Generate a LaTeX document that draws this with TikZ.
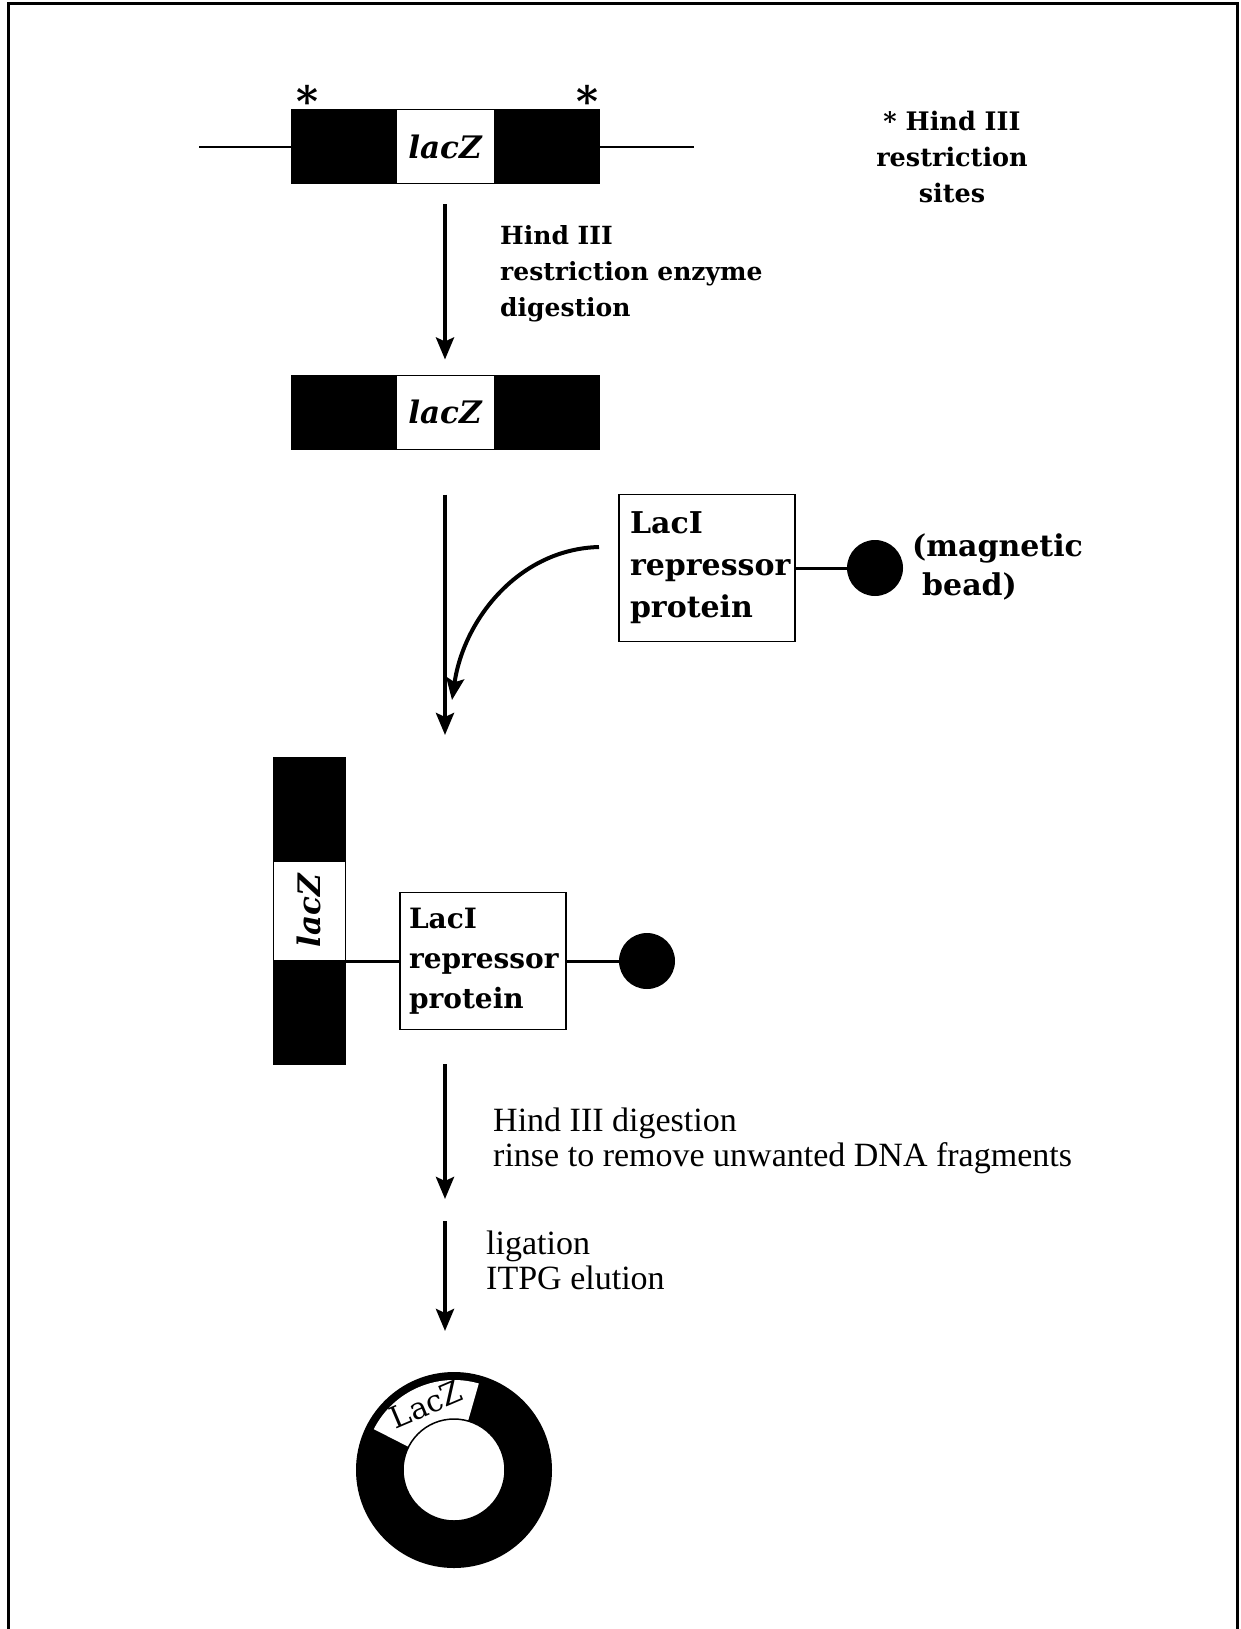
\documentclass[tikz,border=0pt]{standalone}
\usepackage{fontspec}
\setmainfont{DejaVu Serif}
\newfontfamily\lblfont{Liberation Serif}
\usetikzlibrary{arrows.meta}
\begin{document}
\begin{tikzpicture}[x=1pt,y=-1pt,
  bar/.style={fill=black,draw=black,line width=1pt,inner sep=0pt,minimum width=308pt,minimum height=74pt},
  gap/.style={fill=white,draw=black,line width=1pt,inner sep=0pt,minimum width=98pt,minimum height=74pt,font=\bfseries\itshape\fontsize{31}{31}\selectfont},
  dnaline/.style={line width=2pt},
  arr/.style={line width=4pt,-{Stealth[length=22pt,width=18pt,inset=4pt]}},
  starmark/.style={inner sep=0pt,font=\bfseries\fontsize{42}{42}\selectfont},
  site/.style={align=center,inner sep=0pt,font=\bfseries\fontsize{25.5}{36}\selectfont},
  steplbl/.style={align=left,anchor=west,inner sep=0pt,font=\bfseries\fontsize{25}{36}\selectfont},
  plainlbl/.style={align=left,anchor=west,inner sep=0pt,font=\lblfont\fontsize{34}{35}\selectfont},
  lacbox/.style={draw=black,line width=1.5pt,align=left,inner xsep=11pt,inner ysep=0pt,text width=154pt,minimum height=147pt,font=\bfseries\fontsize{30}{42}\selectfont},
  lacboxs/.style={draw=black,line width=1.5pt,align=left,inner xsep=9pt,inner ysep=0pt,text width=148pt,minimum height=137pt,font=\bfseries\fontsize{28}{40}\selectfont},
  bead/.style={circle,fill=black,inner sep=0pt,minimum size=56pt},
  link/.style={line width=3pt},
  beadlbl/.style={align=left,anchor=west,inner sep=0pt,font=\bfseries\fontsize{30}{39}\selectfont}
]
\useasboundingbox (0,0) rectangle (1241,1629);
% frame
\draw[line width=3pt] (8,1629) -- (8,4) -- (1237,4) -- (1237,1629);

% top DNA
\node[bar] (bar1) at (445,147) {};
\node[gap] (gap1) at (bar1.center) {lacZ};
\coordinate (w1) at (199,147);
\coordinate (e1) at (694,147);
\draw[dnaline] (w1) -- (bar1.west);
\draw[dnaline] (bar1.east) -- (e1);
\node[starmark] (s1) at (307,101) {*};
\node[starmark] (s2) at (587,101) {*};
\node[site] (sites) at (952,157) {* Hind III\\restriction\\sites};

% digested fragment
\node[bar] (bar2) at (445,412) {};
\node[gap] (gap2) at (bar2.center) {lacZ};
\draw[arr,shorten <=20pt,shorten >=15pt] (bar1.south) -- (bar2.north);
\node[steplbl] (lbl1) at (500,274) {Hind III\\restriction enzyme\\digestion};

% second arrow and LacI
\coordinate (a2e) at (445,735);
\draw[arr,shorten <=45pt] (bar2.south) -- (a2e);
\node[lacbox] (lac1) at (707,568) {LacI\\repressor\\protein};
\node[bead] (bead1) at (875,568) {};
\draw[link] (lac1.east) -- (bead1.west);
\node[beadlbl] (mag) at (912,567) {(magnetic\\\hspace*{10pt}bead)};
\coordinate (c1) at (599,547);
\coordinate (c2) at (452,700);
\draw[arr] (c1) .. controls (520,549) and (464,618) .. (c2);

% bound complex
\node[bar,minimum width=72pt,minimum height=307pt] (strip) at (309,911) {};
\node[gap,minimum width=99pt,minimum height=72pt,rotate=90] (gap3) at (309,911) {lacZ};
\node[lacboxs] (lac2) at (483,961) {LacI\\repressor\\protein};
\draw[link] (lac2.west) -- (lac2.west -| strip.east);
\node[bead] (bead2) at (647,961) {};
\draw[link] (lac2.east) -- (bead2.west);

% lower arrows
\coordinate (a3s) at (445,1064);
\coordinate (a3e) at (445,1199);
\coordinate (a4s) at (445,1221);
\coordinate (a4e) at (445,1331);
\draw[arr] (a3s) -- (a3e);
\draw[arr] (a4s) -- (a4e);
\node[plainlbl] (lbl3) at (493,1141) {Hind III digestion\\rinse to remove unwanted DNA fragments};
\node[plainlbl] (lbl4) at (486,1260) {ligation\\ITPG elution};

% circular plasmid
\node[circle,fill=black,inner sep=0pt,minimum size=196pt] (ring) at (454,1470) {};
\begin{scope}[shift={(ring.center)},y=1pt]
  \fill[white] (74:90) arc[start angle=74,end angle=153,radius=90]
     -- (153:51) arc[start angle=153,end angle=74,radius=51] -- cycle;
\end{scope}
\node[circle,fill=white,draw=black,line width=1.5pt,inner sep=0pt,minimum size=102pt] (hole) at (ring.center) {};
\begin{scope}[shift={(ring.center)},y=1pt]
  \node[rotate=23,inner sep=0pt,font=\fontsize{30}{30}\selectfont] (ringlbl) at (113:71) {LacZ};
\end{scope}
\end{tikzpicture}
\end{document}
